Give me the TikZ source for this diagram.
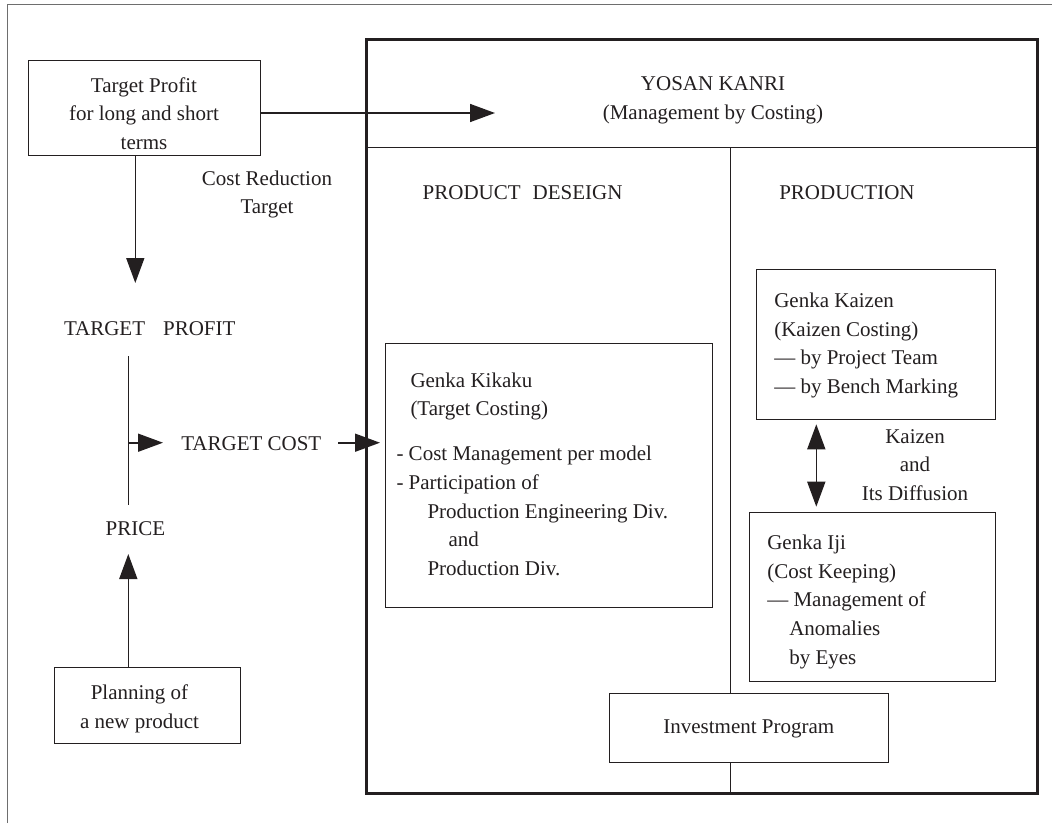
\documentclass[tikz,border=0pt]{standalone}
\usepackage{fontspec}
\setmainfont{Liberation Serif}
\usetikzlibrary{arrows.meta}
\definecolor{ink}{RGB}{35,31,32}
\definecolor{framegray}{RGB}{110,110,110}
\begin{document}
\begin{tikzpicture}[x=1pt,y=-1pt,
  every node/.style={font=\fontsize{21}{28.7}\selectfont, text=ink, inner sep=0pt, outer sep=0pt},
  box/.style={draw=ink, line width=1pt, rectangle},
  mainbox/.style={draw=ink, line width=3pt, rectangle},
  arr/.style={draw=ink, line width=1.6pt, -{Triangle[length=25pt,width=18pt]}},
  darr/.style={draw=ink, line width=1.6pt, {Triangle[length=25pt,width=18pt]}-{Triangle[length=25pt,width=18pt]}},
  stem/.style={draw=ink, line width=1.5pt},
  divider/.style={draw=ink, line width=1pt}]
\useasboundingbox (0,0) rectangle (1052,823);
% outer frame (cut off at right and bottom)
\draw[framegray, line width=1pt] (7,823) -- (7,4.7) -- (1052,4.7);

% main box
\node[mainbox, minimum width=671.7pt, minimum height=754.5pt] (main) at (701.85,416.25) {};

% boxes
\node[box, minimum width=231.3pt, minimum height=95pt] (tpbox) at (144.35,107.5) {};
\node[box, minimum width=326.8pt, minimum height=264.4pt] (kikaku) at (548.9,475.5) {};
\node[box, minimum width=238.8pt, minimum height=149.7pt] (kaizen) at (876.1,344.15) {};
\node[box, minimum width=245.7pt, minimum height=169.4pt] (iji) at (872.65,597) {};
\node[box, minimum width=279pt, minimum height=69pt] (inv) at (748.8,727.8) {\strut Investment Program};
\node[box, minimum width=186.1pt, minimum height=76.3pt] (plan) at (147.35,705.15) {};

% texts
\node[align=center] (tptext) at (144,115) {\strut Target Profit\\ \strut for long and short\\ \strut terms};
\node[align=center] (yosan) at (713,99.3) {\strut YOSAN KANRI\\ \strut (Management by Costing)};
\node[align=center] (crt) at (267,193.8) {\strut Cost Reduction\\ \strut Target};
\node[anchor=west] (pdes) at (422.7,193.3) {\strut PRODUCT\hspace{12pt}DESEIGN};
\node[anchor=west] (prod) at (779.3,193.3) {\strut PRODUCTION};
\node[anchor=east] (tprofit) at (235.5,329.3) {\strut TARGET\hspace{18pt}PROFIT};
\node (tcost) at (251.3,444.3) {\strut TARGET COST};
\node (price) at (135.5,529.6) {\strut PRICE};
\node[align=center] (pltext) at (139.5,708) {\strut Planning of\\ \strut a new product};
\node[anchor=west, align=left] (kk1) at (410.5,395.8) {\strut Genka Kikaku\\ \strut (Target Costing)};
\node[anchor=west, align=left] (kk2) at (396.5,512.3) {\strut - Cost Management per model\\ \strut - Participation of\\ \hspace*{31pt}\strut Production Engineering Div.\\ \hspace*{52pt}\strut and\\ \hspace*{31pt}\strut Production Div.};
\node[anchor=west, align=left] (gk) at (774.3,344.8) {\strut Genka Kaizen\\ \strut (Kaizen Costing)\\ \strut — by Project Team\\ \strut — by Bench Marking};
\node[align=center] (kd) at (915,466.2) {\strut Kaizen\\ \strut and\\ \strut Its Diffusion};
\node[anchor=west, align=left] (gi) at (767.3,601) {\strut Genka Iji\\ \strut (Cost Keeping)\\ \strut — Management of\\ \hspace*{22pt}\strut Anomalies\\ \hspace*{22pt}\strut by Eyes};

% dividers
\coordinate (hdiv) at (366,147.7);
\draw[divider] (main.west |- hdiv) -- (main.east |- hdiv);
\coordinate (vdiv) at (730.7,147.7);
\draw[divider] (vdiv) -- (inv.north -| vdiv);
\draw[divider] (inv.south -| vdiv) -- (main.south -| vdiv);

% connectors
\coordinate (yend) at (495,113);
\draw[arr] (tpbox.east |- yend) -- (yend);
\coordinate (tpdown) at (135.3,283);
\draw[arr] (tpbox.south -| tpdown) -- (tpdown);
\coordinate (vtop) at (128.7,356);
\coordinate (vbot) at (128.7,505);
\draw[stem] (vtop) -- (vbot);
\coordinate (brend) at (163,442.7);
\draw[arr] (vtop |- brend) -- (brend);
\coordinate (tcstart) at (338,442.7);
\draw[arr, shorten >=5.5pt] (tcstart) -- (kikaku.west |- tcstart);
\coordinate (uptip) at (128.3,554);
\draw[arr] (plan.north -| uptip) -- (uptip);
\coordinate (dax) at (816.3,466);
\draw[darr, shorten <=5.3pt, shorten >=5.6pt] (kaizen.south -| dax) -- (iji.north -| dax);
\end{tikzpicture}
\end{document}
